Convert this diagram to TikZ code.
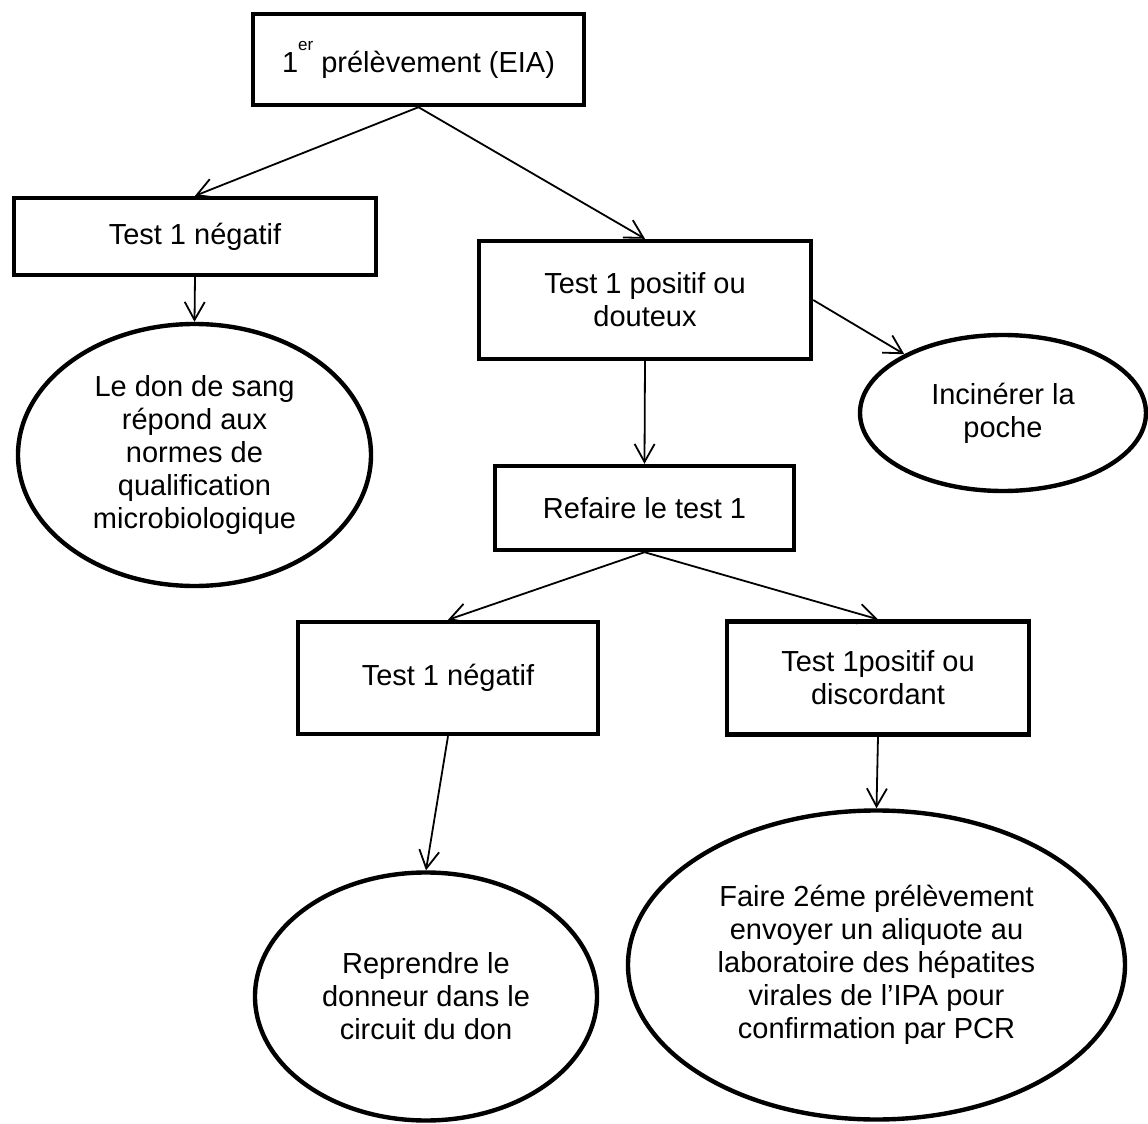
\documentclass[tikz,border=0pt]{standalone}
\usepackage{fontspec}
\setmainfont{Liberation Sans}
\usetikzlibrary{arrows.meta,shapes.geometric}
\definecolor{qualInk}{HTML}{000000}
\tikzset{
  qual box/.style={rectangle, draw=qualInk, line width=2.2pt, inner sep=2pt, align=center, font=\fontsize{14.5}{16.5}\selectfont},
  qual oval/.style={ellipse, draw=qualInk, line width=2.2pt, inner sep=0pt, align=center, font=\fontsize{14.5}{16.5}\selectfont},
  qual link/.style={draw=qualInk, line width=0.9pt, -{Straight Barb[length=9pt,width=10pt,line width=0.9pt]}},
}

\begin{document}
\begin{tikzpicture}[x=0.5pt,y=-0.5pt]
  \useasboundingbox (0,0) rectangle (1148,1124);
  % First sample and first answer
  \node[qual box, minimum width=165.5pt, minimum height=45.5pt] (sample) at (418.5,59.5)
    {1\raisebox{11pt}{\fontsize{8.5}{10}\selectfont er} prélèvement (EIA)};
  \node[qual box, minimum width=181pt, minimum height=38.5pt] (neg1) at (195,236.5) {Test 1 négatif};
  \node[qual box, minimum width=166pt, minimum height=59pt] (pos1) at (645,300) {Test 1 positif ou\\douteux};
  \node[qual oval, minimum width=176.5pt, minimum height=131pt] (donok) at (194.5,455)
    {Le don de sang\\répond aux\\normes de\\qualification\\microbiologique};
  \node[qual oval, minimum width=143pt, minimum height=78pt] (burn) at (1003,413) {Incinérer la\\poche};
  % Second run of test 1
  \node[qual box, minimum width=149.5pt, minimum height=42pt] (redo) at (644.5,508) {Refaire le test 1};
  \node[qual box, minimum width=150pt, minimum height=56pt] (neg2) at (448,678) {Test 1 négatif};
  \node[qual box, minimum width=151pt, minimum height=56.5pt] (pos2) at (878,678) {Test 1positif ou\\discordant};
  \node[qual oval, minimum width=171pt, minimum height=124pt] (donor) at (426,996.5)
    {Reprendre le\\donneur dans le\\circuit du don};
  \node[qual oval, minimum width=248.5pt, minimum height=154.5pt] (pcr) at (876.5,965)
    {Faire 2éme prélèvement\\envoyer un aliquote au\\laboratoire des hépatites\\virales de l’IPA pour\\confirmation par PCR};
  % Links
  \draw[qual link] (sample.south) -- (neg1.north);
  \draw[qual link] (sample.south) -- (pos1.north);
  \draw[qual link] (neg1.south) -- (donok.north);
  \draw[qual link] (pos1.east) -- (burn);
  \draw[qual link] (pos1.south) -- (redo.north);
  \draw[qual link] (redo.south) -- (neg2.north);
  \draw[qual link] (redo.south) -- (pos2.north);
  \draw[qual link] (neg2.south) -- (donor.north);
  \draw[qual link] (pos2.south) -- (pcr.north);
\end{tikzpicture}
\end{document}
